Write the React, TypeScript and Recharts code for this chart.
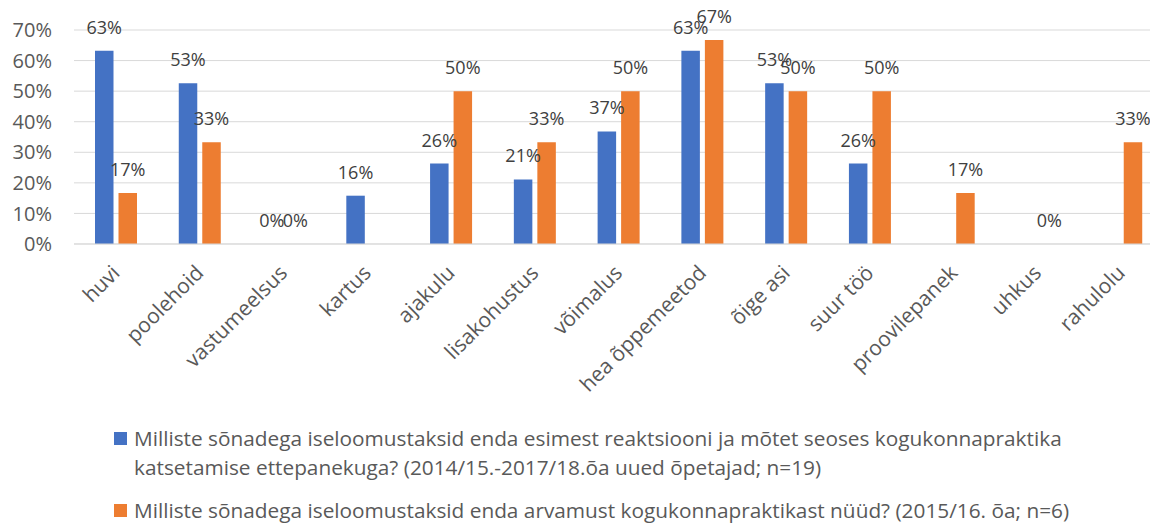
import { BarChart, Bar, XAxis, YAxis, CartesianGrid, Legend, LabelList } from 'recharts';

const categories = [
  'huvi', 'poolehoid', 'vastumeelsus', 'kartus', 'ajakulu', 'lisakohustus', 'võimalus',
  'hea õppemeetod', 'õige asi', 'suur töö', 'proovilepanek', 'uhkus', 'rahulolu',
];
// esimene reaktsioon (n=19)
const firstReaction = [63.2, 52.6, 0, 15.8, 26.3, 21.1, 36.8, 63.2, 52.6, 26.3, null, null, null];
// arvamus nüüd (n=6)
const opinionNow = [16.7, 33.3, 0, null, 50, 33.3, 50, 66.7, 50, 50, 16.7, 0, 33.3];
const yTicks = [0, 10, 20, 30, 40, 50, 60, 70];

const seriesNames = [
  'Milliste sõnadega iseloomustaksid enda esimest reaktsiooni ja mõtet seoses kogukonnapraktika katsetamise ettepanekuga? (2014/15.-2017/18.õa uued õpetajad; n=19)',
  'Milliste sõnadega iseloomustaksid enda arvamust kogukonnapraktikast nüüd? (2015/16. õa; n=6)',
];

const data = categories.map((name, i) => ({ name, first: firstReaction[i], now: opinionNow[i] }));

const FONT = '"Open Sans", sans-serif';

const fmtLabel = (v: any) => (v == null ? '' : `${Math.round(v)}%`);
// keep zero-value bars (and their labels) in the render
const zeroMin = (v: any) => (v === 0 ? 0.01 : 0);

function CategoryTick({ x, y, payload }: any) {
  return (
    <g transform={`translate(${x},${y + 25})`}>
      <text
        transform="rotate(-45)"
        textAnchor="end"
        dy="0.35em"
        fontFamily={FONT}
        fontSize={21}
        fill="#595959"
      >
        {payload.value}
      </text>
    </g>
  );
}

function LegendBlock({ payload }: any) {
  const items = [...(payload || [])].sort(
    (a: any, b: any) => seriesNames.indexOf(a.value) - seriesNames.indexOf(b.value)
  );
  return (
    <div
      style={{
        height: 103,
        paddingTop: 4,
        boxSizing: 'border-box',
        fontFamily: FONT,
        fontSize: 20.8,
        lineHeight: '29px',
        color: '#595959',
        textAlign: 'left',
      }}
    >
      {items.map((p: any) => (
        <div key={p.value} style={{ display: 'flex', alignItems: 'flex-start', marginBottom: 14 }}>
          <span style={{ width: 13, height: 13, background: p.color, marginTop: 8, marginRight: 7, flexShrink: 0 }} />
          <span style={{ width: 990 }}>{p.value}</span>
        </div>
      ))}
    </div>
  );
}

export default function App() {
  return (
    <div style={{ position: 'fixed', left: 0, top: 0, width: 1150, height: 523, overflow: 'hidden', background: '#fff' }}>
      <BarChart
        width={1163}
        height={523}
        data={data}
        margin={{ top: 30, right: 0, left: 0, bottom: 0 }}
        barSize={18.5}
        barGap={5}
      >
        <CartesianGrid horizontal vertical={false} stroke="#d9d9d9" />
        <XAxis
          dataKey="name"
          interval={0}
          height={176}
          tickLine={false}
          tickSize={0}
          tickMargin={0}
          axisLine={{ stroke: '#d9d9d9' }}
          tick={<CategoryTick />}
        />
        <YAxis
          width={74}
          domain={[0, 70]}
          ticks={yTicks}
          tickFormatter={(v) => `${v}%`}
          axisLine={false}
          tickLine={false}
          tickSize={0}
          tickMargin={22}
          tick={{ fontFamily: FONT, fontSize: 20, fill: '#595959' }}
        />
        <Legend
          verticalAlign="bottom"
          align="left"
          content={<LegendBlock />}
          wrapperStyle={{ left: 114, width: 1010 }}
        />
        <Bar dataKey="first" name={seriesNames[0]} fill="#4472C4" minPointSize={zeroMin} isAnimationActive={false}>
          <LabelList dataKey="first" position="top" offset={17} formatter={fmtLabel} fill="#404040" fontFamily={FONT} fontSize={18} />
        </Bar>
        <Bar dataKey="now" name={seriesNames[1]} fill="#ED7D31" minPointSize={zeroMin} isAnimationActive={false}>
          <LabelList dataKey="now" position="top" offset={17} formatter={fmtLabel} fill="#404040" fontFamily={FONT} fontSize={18} />
        </Bar>
      </BarChart>
    </div>
  );
}
